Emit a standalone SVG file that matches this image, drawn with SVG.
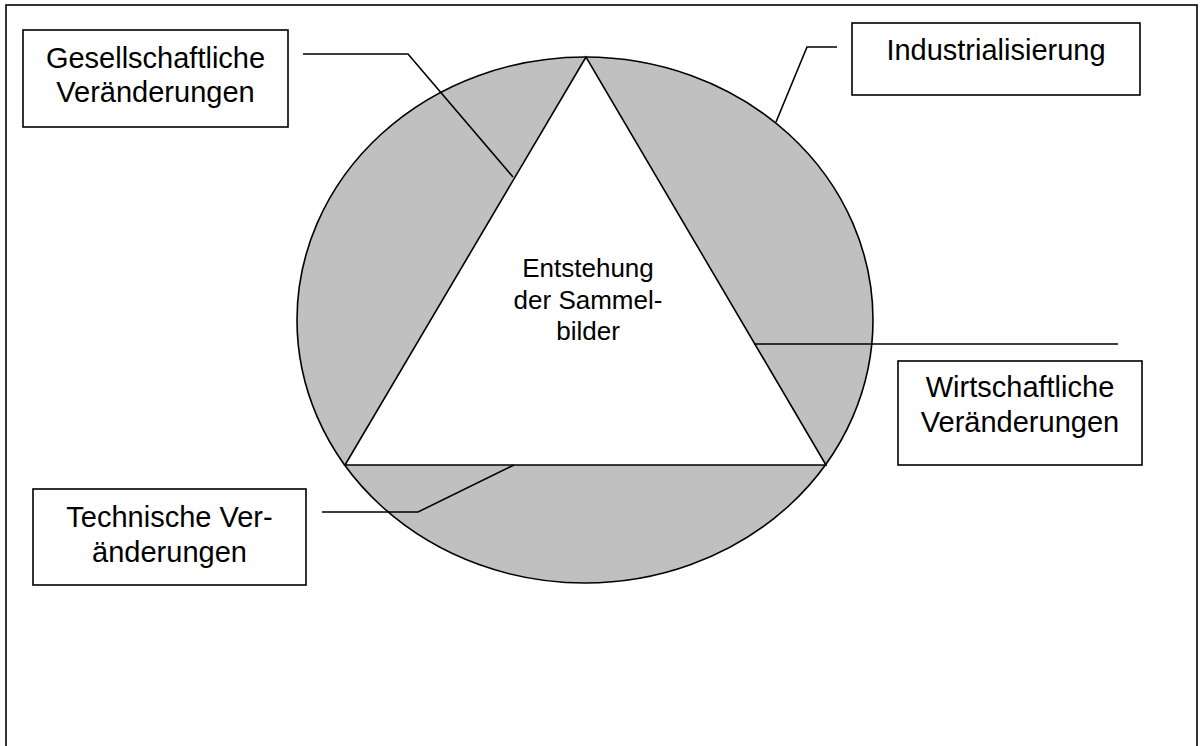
<svg xmlns="http://www.w3.org/2000/svg" width="1200" height="746" viewBox="0 0 1200 746">
<style>
.box{fill:#fff;stroke:#000;stroke-width:1.6}
.ln{fill:none;stroke:#000;stroke-width:1.6}
.t{font-family:"Liberation Sans",Arial,sans-serif;font-size:29px;fill:#000;text-anchor:middle}
.c{font-family:"Liberation Sans",Arial,sans-serif;font-size:26px;fill:#000;text-anchor:middle}
</style>
<rect x="0" y="0" width="1200" height="746" fill="#fff"/>
<rect x="6" y="5" width="1191" height="760" fill="none" stroke="#000" stroke-width="1.6"/>
<g id="circle">
<ellipse cx="585" cy="320" rx="288" ry="263" fill="#c0c0c0" stroke="#000" stroke-width="1.6"/>
</g>
<g id="triangle">
<polygon points="586,57 345,465 826,465" fill="#fff" stroke="#000" stroke-width="1.6"/>
<text class="c" x="588" y="277">Entstehung</text>
<text class="c" x="588" y="308.5">der Sammel-</text>
<text class="c" x="588" y="340">bilder</text>
</g>
<g id="connectors">
<polyline class="ln" points="303,54 408,54 513,177"/>
<polyline class="ln" points="837,47 807,47 776,122"/>
<polyline class="ln" points="754,344 1118,344"/>
<polyline class="ln" points="322,512 418,512 514,465"/>
</g>
<g id="gesellschaftliche">
<rect class="box" x="23" y="30" width="265" height="97"/>
<text class="t" x="155.5" y="68">Gesellschaftliche</text>
<text class="t" x="155.5" y="102">Veränderungen</text>
</g>
<g id="industrialisierung">
<rect class="box" x="852" y="23" width="288" height="72"/>
<text class="t" x="996" y="60">Industrialisierung</text>
</g>
<g id="wirtschaftliche">
<rect class="box" x="898" y="361" width="244" height="104"/>
<text class="t" x="1020" y="397">Wirtschaftliche</text>
<text class="t" x="1020" y="432">Veränderungen</text>
</g>
<g id="technische">
<rect class="box" x="33" y="489" width="273" height="96"/>
<text class="t" x="169.5" y="527">Technische Ver-</text>
<text class="t" x="169.5" y="562">änderungen</text>
</g>
</svg>
